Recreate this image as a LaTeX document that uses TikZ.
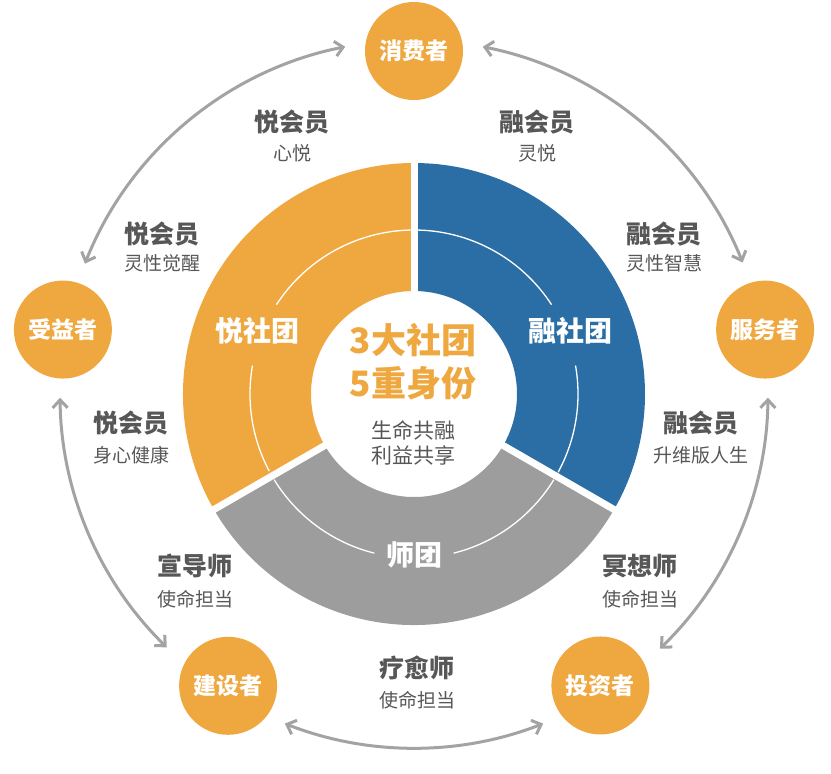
\documentclass[tikz,border=0pt]{standalone}
\usepackage{fontspec}
\setmainfont{Noto Sans CJK SC}
\usetikzlibrary{arrows.meta}
\definecolor{yue}{HTML}{EEA83F}
\definecolor{rong}{HTML}{2A6EA5}
\definecolor{shi}{HTML}{9D9D9D}
\definecolor{txt}{HTML}{575757}
\definecolor{linkgray}{HTML}{A3A3A3}

\begin{document}
\begin{tikzpicture}[x=1pt, y=1pt, shift={(414,-394)},
    role/.style={circle, fill=yue, minimum size=98pt, inner sep=0pt, text=white,
      font=\bfseries\fontsize{23}{23}\selectfont},
    ttl/.style={text=txt, inner sep=0pt, font=\bfseries\fontsize{25}{25}\selectfont},
    subtext/.style={text=txt, inner sep=0pt, font=\fontsize{19}{19}\selectfont},
    club/.style={text=white, inner sep=0pt, font=\bfseries\fontsize{28}{28}\selectfont},
    ringarc/.style={white, line width=1.3pt},
    link/.style={draw=linkgray, line width=3pt,
      {Straight Barb[length=8pt,width=15pt]}-{Straight Barb[length=8pt,width=15pt]}}]
  \useasboundingbox (-414,394) rectangle (417,-380);

  % three clubs
  \fill[yue] (90:103) arc[start angle=90, end angle=210, radius=103]
    -- (210:231) arc[start angle=210, end angle=90, radius=231] -- cycle;
  \fill[rong] (-30:103) arc[start angle=-30, end angle=90, radius=103]
    -- (90:231) arc[start angle=90, end angle=-30, radius=231] -- cycle;
  \fill[shi] (210:103) arc[start angle=210, end angle=330, radius=103]
    -- (330:231) arc[start angle=330, end angle=210, radius=231] -- cycle;
  \foreach \a in {90,210,330}
    \draw[white, line width=7pt] (\a:95) -- (\a:240);

  \draw[ringarc] (90:164) arc[start angle=90, end angle=147, radius=164];
  \draw[ringarc] (170:164) arc[start angle=170, end angle=208, radius=164];
  \draw[ringarc] (33:164) arc[start angle=33, end angle=90, radius=164];
  \draw[ringarc] (-28.5:164) arc[start angle=-28.5, end angle=10, radius=164];
  \draw[ringarc] (211.5:164) arc[start angle=211.5, end angle=256, radius=164];
  \draw[ringarc] (284:164) arc[start angle=284, end angle=328.5, radius=164];

  \node[club] (yueclub) at (158:169) {悦社团};
  \node[club] (rongclub) at (22:169) {融社团};
  \node[club] (shiclub) at (270:161) {师团};

  % centre
  \node[text=yue, inner sep=0pt, font=\bfseries\fontsize{35}{35}\selectfont] (c1) at (-1,54) {3大社团};
  \node[text=yue, inner sep=0pt, font=\bfseries\fontsize{35}{35}\selectfont] (c2) at (-1,11) {5重身份};
  \node[text=txt, inner sep=0pt, font=\fontsize{21}{21}\selectfont] (c3) at (-1,-36) {生命共融};
  \node[text=txt, inner sep=0pt, font=\fontsize{21}{21}\selectfont] (c4) at (-1,-61) {利益共享};

  % five roles
  \node[role] (xiaofei) at (90:343) {消费者};
  \node[role] (shouyi) at (169.6:357) {受益者};
  \node[role] (fuwu) at (10.4:357) {服务者};
  \node[role] (jianshe) at (237.5:346) {建设者};
  \node[role] (touzi) at (-57.4:346) {投资者};

  % members and teachers
  \node[ttl] (m1) at (-122,272) {悦会员};
  \node[subtext] (m1s) at (-122,241) {心悦};
  \node[ttl] (m2) at (123,272) {融会员};
  \node[subtext] (m2s) at (123,241) {灵悦};
  \node[ttl] (m3) at (-252,160) {悦会员};
  \node[subtext] (m3s) at (-252,131) {灵性觉醒};
  \node[ttl] (m4) at (250,160) {融会员};
  \node[subtext] (m4s) at (250,131) {灵性智慧};
  \node[ttl] (m5) at (-283,-29) {悦会员};
  \node[subtext] (m5s) at (-283,-61) {身心健康};
  \node[ttl] (m6) at (287,-29) {融会员};
  \node[subtext] (m6s) at (287,-61) {升维版人生};
  \node[ttl] (t1) at (-219,-172) {宣导师};
  \node[subtext] (t1s) at (-219,-205) {使命担当};
  \node[ttl] (t2) at (226,-172) {冥想师};
  \node[subtext] (t2s) at (226,-205) {使命担当};
  \node[ttl] (t3) at (3,-274) {疗愈师};
  \node[subtext] (t3s) at (3,-306) {使命担当};

  % arrows round the roles
  \foreach \n/\a in {l1/158.4, l2/101.2, r1/78.8, r2/21.8, r3/-0.6, r4/-46,
      b1/-68.6, b2/-111.4, l3/225.7, l4/180.6}
    \coordinate (\n) at (\a:354);
  \draw[link] (l1) arc[start angle=158.4, end angle=101.2, radius=354];
  \draw[link] (r1) arc[start angle=78.8, end angle=21.8, radius=354];
  \draw[link] (r3) arc[start angle=-0.6, end angle=-46, radius=354];
  \draw[link] (b1) arc[start angle=-68.6, end angle=-111.4, radius=354];
  \draw[link] (l3) arc[start angle=225.7, end angle=180.6, radius=354];
\end{tikzpicture}
\end{document}
